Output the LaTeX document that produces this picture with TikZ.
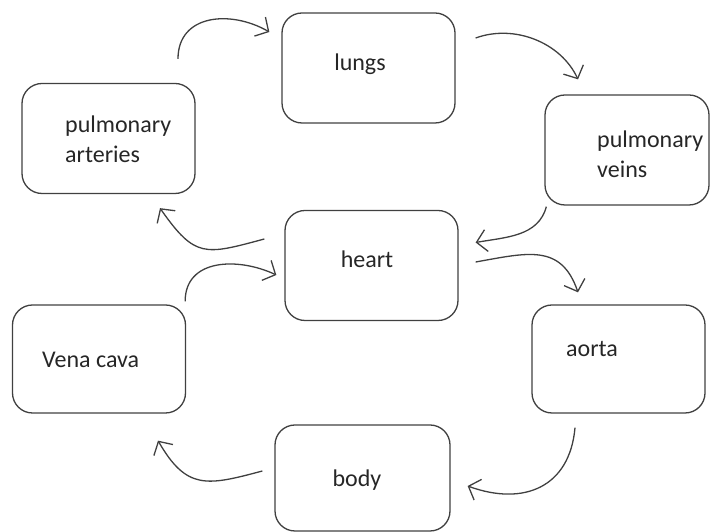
\documentclass[tikz,border=0pt]{standalone}
\usepackage{fontspec}
\setmainfont{Carlito}
\usetikzlibrary{arrows.meta}
\definecolor{linegray}{HTML}{404040}

\tikzset{
  box/.style={draw=linegray, line width=1.3pt, rounded corners=20pt,
    minimum width=173pt, minimum height=110pt, inner sep=0pt},
  txt/.style={inner sep=0pt, font=\fontsize{24}{30}\selectfont, text=black!85},
  flow/.style={draw=linegray, line width=1.3pt, -{Straight Barb[length=10pt,width=22pt]}},
}

\begin{document}
\begin{tikzpicture}[x=1pt,y=1pt]
   \useasboundingbox (0,0) rectangle (710,532);

   \node[box] (lungs) at (368.5,464) {};
   \node[box] (parteries) at (108.5,393.5) {};
   \node[box,minimum width=164pt] (pveins) at (627,382) {};
   \node[box] (heart) at (371.5,266.5) {};
   \node[box,minimum height=108pt] (vcava) at (99,173) {};
   \node[box,minimum height=108pt] (aorta) at (618.5,173) {};
   \node[box,minimum width=175pt,minimum height=106pt] (body) at (362.5,54) {};

   \node[txt,anchor=base] (lungs-t) at (360,461) {lungs};
   \node[txt,anchor=west,align=left] (parteries-t) at (65,392.5) {pulmonary\\arteries};
   \node[txt,anchor=west,align=left] (pveins-t) at (597,378) {pulmonary\\veins};
   \node[txt,anchor=base] (heart-t) at (367,264) {heart};
   \node[txt,anchor=base west] (vcava-t) at (42,164) {Vena cava};
   \node[txt,anchor=base west] (aorta-t) at (566,175) {aorta};
   \node[txt,anchor=base] (body-t) at (357,45) {body};

   \path ([shift={(69.5,24)}]parteries.north) edge[flow,out=90,in=150,looseness=1.2] ([shift={(-12,36)}]lungs.west);
   \path ([shift={(20,30)}]lungs.east) edge[flow,out=20,in=115,looseness=0.95] ([shift={(-49,15)}]pveins.north);
   \path ([shift={(2,-1)}]pveins.south west) edge[flow,out=-105,in=10,looseness=1] ([shift={(17,23)}]heart.east);
   \path ([shift={(-20,26.5)}]heart.west) edge[flow,out=195,in=-55,looseness=1.45] ([shift={(51.5,-14)}]parteries.south);
   \path ([shift={(17,3.5)}]heart.east) edge[flow,out=10,in=109,looseness=1.25] ([shift={(-40.5,12)}]aorta.north);
   \path ([shift={(-43.5,-14)}]aorta.south) edge[flow,out=-95,in=-20,looseness=1.25] ([shift={(17,-8)}]body.east);
   \path ([shift={(-12,7)}]body.west) edge[flow,out=195,in=-60,looseness=1.35] ([shift={(59,-27)}]vcava.south);
   \path ([shift={(-1,3)}]vcava.north east) edge[flow,out=90,in=155,looseness=1.15] ([shift={(-8,-9.5)}]heart.west);

\end{tikzpicture}
\end{document}
